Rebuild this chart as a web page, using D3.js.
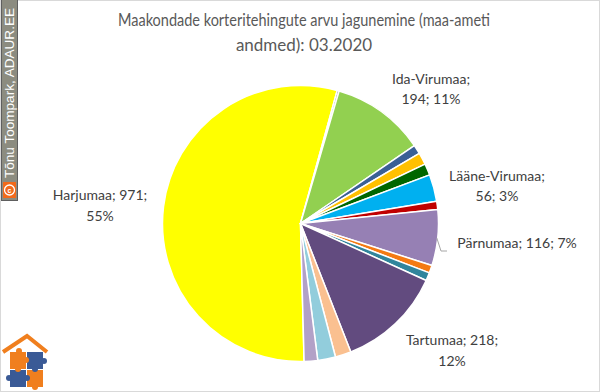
<!DOCTYPE html>
<html><head><meta charset="utf-8">
<script src="https://cdn.jsdelivr.net/npm/d3@7"></script>
<style>body{margin:0;background:#fff}svg{display:block}</style>
</head><body>
<svg id="c" width="600" height="392"></svg>
<script>
const categories = ["Harjumaa","Hiiumaa","Ida-Virumaa","Jõgevamaa","Järvamaa","Läänemaa","Lääne-Virumaa","Põlvamaa","Pärnumaa","Raplamaa","Saaremaa","Tartumaa","Valgamaa","Viljandimaa","Võrumaa"];
const values = [971,4,194,19,25,24,56,17,116,16,17,218,33,37,28];
const colors = ["#FFFF00","#808080","#92D050","#3A6096","#FFC000","#006600","#00B0F0","#C00000","#9680B4","#F47A12","#31859C","#624B7F","#FAC090","#92CDDC","#B2A1C7"];
const labeled = ["Harjumaa","Ida-Virumaa","Lääne-Virumaa","Pärnumaa","Tartumaa"];
const titleLines = ["Maakondade korteritehingute arvu jagunemine (maa-ameti","andmed): 03.2020"];

const svg = d3.select("#c");
const W = 600, H = 392;
svg.append("rect").attr("x",0.5).attr("y",0.5).attr("width",W-1).attr("height",H-1)
  .attr("fill","#fff").attr("stroke","#D9D9D9");

// title
const title = svg.append("text").attr("text-anchor","middle").attr("fill","#595959")
  .style("font-family","Lato, 'Open Sans', sans-serif").style("font-size","17px");
title.append("tspan").attr("x",304).attr("y",26).attr("textLength",372).attr("lengthAdjust","spacingAndGlyphs").text(titleLines[0]);
title.append("tspan").attr("x",304).attr("y",51).text(titleLines[1]);

// pie
const cx = 300.5, cy = 223.5, R = 138;
const total = d3.sum(values);
const start = 178.5 * Math.PI/180;
const pie = d3.pie().sort(null).value(d=>d.v).startAngle(start).endAngle(start+2*Math.PI);
const data = categories.map((c,i)=>({c, v:values[i], col:colors[i]}));
const arcs = pie(data);
const arc = d3.arc().innerRadius(0).outerRadius(R);
const g = svg.append("g").attr("transform",`translate(${cx},${cy})`);
g.selectAll("path").data(arcs).join("path")
  .attr("d",arc).attr("fill",d=>d.data.col)
  .attr("stroke","#fff").attr("stroke-width",1.5).attr("stroke-linejoin","round");

// labels
const labelPos = {
  "Harjumaa": {x:100, ys:[200,221], split:2},
  "Ida-Virumaa": {x:431, ys:[84,104], split:1},
  "Lääne-Virumaa": {x:497, ys:[181,201], split:1},
  "Pärnumaa": {x:517, ys:[248], split:0},
  "Tartumaa": {x:452, ys:[345,366], split:2}
};
const lab = svg.append("g").attr("fill","#404040")
  .style("font-family","Lato, 'Open Sans', sans-serif").style("font-size","14px").attr("text-anchor","middle");
data.filter(d=>labeled.includes(d.c)).forEach(d=>{
  const p = labelPos[d.c];
  const parts = [d.c, String(d.v), Math.round(d.v/total*100)+"%"];
  let lines;
  if (p.split===0) lines=[parts.join("; ")];
  else if (p.split===1) lines=[parts[0]+";", parts[1]+"; "+parts[2]];
  else lines=[parts[0]+"; "+parts[1]+";", parts[2]];
  const t = lab.append("text");
  lines.forEach((l,i)=>t.append("tspan").attr("x",p.x).attr("y",p.ys[i]).text(l));
});
// leader line for Pärnumaa
const pa = arcs.find(a=>a.data.c==="Pärnumaa");
const mid = (pa.startAngle+pa.endAngle)/2;
const ex = cx + R*Math.sin(mid), ey = cy - R*Math.cos(mid);
svg.append("polyline").attr("points",`${ex-1},${ey} ${441},${251} ${447},${251}`)
  .attr("fill","none").attr("stroke","#A6A6A6").attr("stroke-width",1);

// watermark band
const wm = svg.append("g");
wm.append("rect").attr("x",1.5).attr("y",-1).attr("width",16).attr("height",201.5)
  .attr("fill","#8C8C80").attr("stroke","#5F5F5F").attr("stroke-width",1);
wm.append("rect").attr("x",3).attr("y",182).attr("width",13).attr("height",16).attr("fill","#F26A1B");
wm.append("circle").attr("cx",9.5).attr("cy",190).attr("r",5).attr("fill","none").attr("stroke","#fff").attr("stroke-width",1.3);
wm.append("text").attr("x",9.5).attr("y",192.5).attr("text-anchor","middle").attr("fill","#fff")
  .style("font-family","'Liberation Sans', Arial, sans-serif").style("font-size","7px").style("font-weight","bold").text("c");
wm.append("text").attr("transform","translate(14,178) rotate(-90)").attr("fill","#fff")
  .style("font-family","'Liberation Sans', Arial, sans-serif").style("font-size","13px")
  .attr("textLength",170).attr("lengthAdjust","spacingAndGlyphs").text("Tõnu Toompark, ADAUR.EE");

// logo
const lg = svg.append("g");
lg.append("polyline").attr("points","3,352 27,336 47,352").attr("fill","none")
  .attr("stroke","#F07F1E").attr("stroke-width",4).attr("stroke-linejoin","miter");
const sq = [[10,352,"#F07F1E"],[27,352,"#3A5A96"],[10,370,"#3A5A96"],[27,370,"#F07F1E"]];
sq.forEach(([x,y,c])=>lg.append("rect").attr("x",x).attr("y",y).attr("width",16).attr("height",17).attr("fill",c));
[[26,360,"#F07F1E"],[35,369,"#3A5A96"],[18,369,"#F07F1E"],[27,378,"#3A5A96"],[44,361,"#3A5A96"],[9,378,"#3A5A96"],[19,351,"#F07F1E"],[35,387,"#F07F1E"]]
  .forEach(([x,y,c])=>lg.append("circle").attr("cx",x).attr("cy",y).attr("r",3).attr("fill",c));
</script>
</body></html>
